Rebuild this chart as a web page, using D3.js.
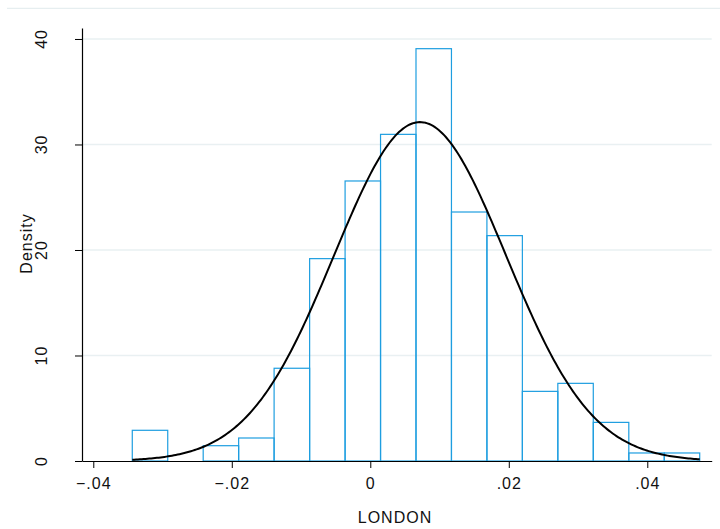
<!DOCTYPE html>
<html>
<head>
<meta charset="utf-8">
<script src="https://cdn.jsdelivr.net/npm/d3@7/dist/d3.min.js"></script>
<style>
  html, body { margin: 0; padding: 0; background: #ffffff; }
  svg { display: block; }
  text { font-family: "Liberation Sans", Arial, Helvetica, sans-serif; fill: #111; letter-spacing: 1px; }
</style>
</head>
<body>
<svg id="chart" width="720" height="529"></svg>
<script>
// Histogram bin edges of LONDON returns (17 edges -> 16 bins)
const binEdges = [-0.03437, -0.02925, -0.02413, -0.01901, -0.01389, -0.00876, -0.00364,
  0.00148, 0.00660, 0.01172, 0.01684, 0.02196, 0.02708, 0.03220, 0.03733, 0.04245, 0.04757];
// Density height of each bin
const densities = [2.91, 0, 1.45, 2.18, 8.79, 19.18, 26.54, 30.96, 39.08, 23.6, 21.36,
  6.6, 7.36, 3.66, 0.76, 0.76];
// Parameters of the overlaid normal density
const normalMean = 0.00718;
const normalSd = 0.01242;
// Axis ticks
const xTicks = [-0.04, -0.02, 0, 0.02, 0.04];
const yTicks = [0, 10, 20, 30, 40];
const xTitle = "LONDON";
const yTitle = "Density";

const svg = d3.select("#chart");

const x = d3.scaleLinear().domain([-0.04163, 0.0493]).range([82, 711.7]);
const y = d3.scaleLinear().domain([0, 41.04]).range([461, 28]);

const fmt = d => d === 0 ? "0" : d3.format(".2f")(d).replace("0.", ".");

// outer frame line along the top of the graph region
svg.append("line")
  .attr("x1", 7).attr("x2", 720).attr("y1", 8.3).attr("y2", 8.3)
  .attr("stroke", "#e6eef0").attr("stroke-width", 1.3);

// horizontal gridlines
svg.append("g").selectAll("line")
  .data(yTicks.filter(d => d !== 0))
  .join("line")
  .attr("x1", x.range()[0]).attr("x2", x.range()[1])
  .attr("y1", d => y(d)).attr("y2", d => y(d))
  .attr("stroke", "#e9f0f2").attr("stroke-width", 1.4);

// histogram bars (outline only)
const bins = densities.map((v, i) => ({ x0: binEdges[i], x1: binEdges[i + 1], v }));
svg.append("g").selectAll("rect")
  .data(bins.filter(b => b.v > 0))
  .join("rect")
  .attr("x", b => x(b.x0))
  .attr("width", b => x(b.x1) - x(b.x0))
  .attr("y", b => y(b.v))
  .attr("height", b => y(0) - y(b.v))
  .attr("fill", "none")
  .attr("stroke", "#1e9ee0")
  .attr("stroke-width", 1.2);

// normal density curve over the data range
const lo = binEdges[0], hi = binEdges[binEdges.length - 1];
const curvePts = d3.range(0, 301).map(i => {
  const xv = lo + (hi - lo) * i / 300;
  const z = (xv - normalMean) / normalSd;
  return [xv, Math.exp(-0.5 * z * z) / (normalSd * Math.sqrt(2 * Math.PI))];
});
svg.append("path")
  .datum(curvePts)
  .attr("fill", "none")
  .attr("stroke", "#000")
  .attr("stroke-width", 2)
  .attr("d", d3.line().x(d => x(d[0])).y(d => y(d[1])));

// x axis
const gx = svg.append("g").attr("transform", `translate(0,${y(0)})`)
  .call(d3.axisBottom(x).tickValues(xTicks).tickFormat(fmt).tickSize(7).tickSizeOuter(0));
gx.select(".domain").attr("stroke", "#000").attr("stroke-width", 1.2);
gx.selectAll(".tick line").attr("stroke", "#000").attr("stroke-width", 1);
gx.selectAll(".tick text")
  .attr("y", 28.3).attr("dy", null)
  .attr("font-size", 16).attr("fill", "#111")
  .attr("font-family", "'Liberation Sans', Arial, sans-serif");

// y axis
const gy = svg.append("g").attr("transform", `translate(${x.range()[0]},0)`)
  .call(d3.axisLeft(y).tickValues(yTicks).tickSize(7).tickSizeOuter(0).tickFormat(""));
gy.select(".domain").attr("stroke", "#000").attr("stroke-width", 1.2);
gy.selectAll(".tick line").attr("stroke", "#000").attr("stroke-width", 1);

// rotated y tick labels
svg.append("g").selectAll("text")
  .data(yTicks)
  .join("text")
  .attr("transform", d => `translate(46.7,${y(d)}) rotate(-90)`)
  .attr("text-anchor", "middle")
  .attr("font-size", 16)
  .text(d => d);

// axis titles
svg.append("text")
  .attr("transform", "translate(31.5,243.5) rotate(-90)")
  .attr("text-anchor", "middle")
  .attr("font-size", 16)
  .text(yTitle);

svg.append("text")
  .attr("x", 395)
  .attr("y", 523.3)
  .attr("text-anchor", "middle")
  .attr("font-size", 16)
  .text(xTitle);
</script>
</body>
</html>
